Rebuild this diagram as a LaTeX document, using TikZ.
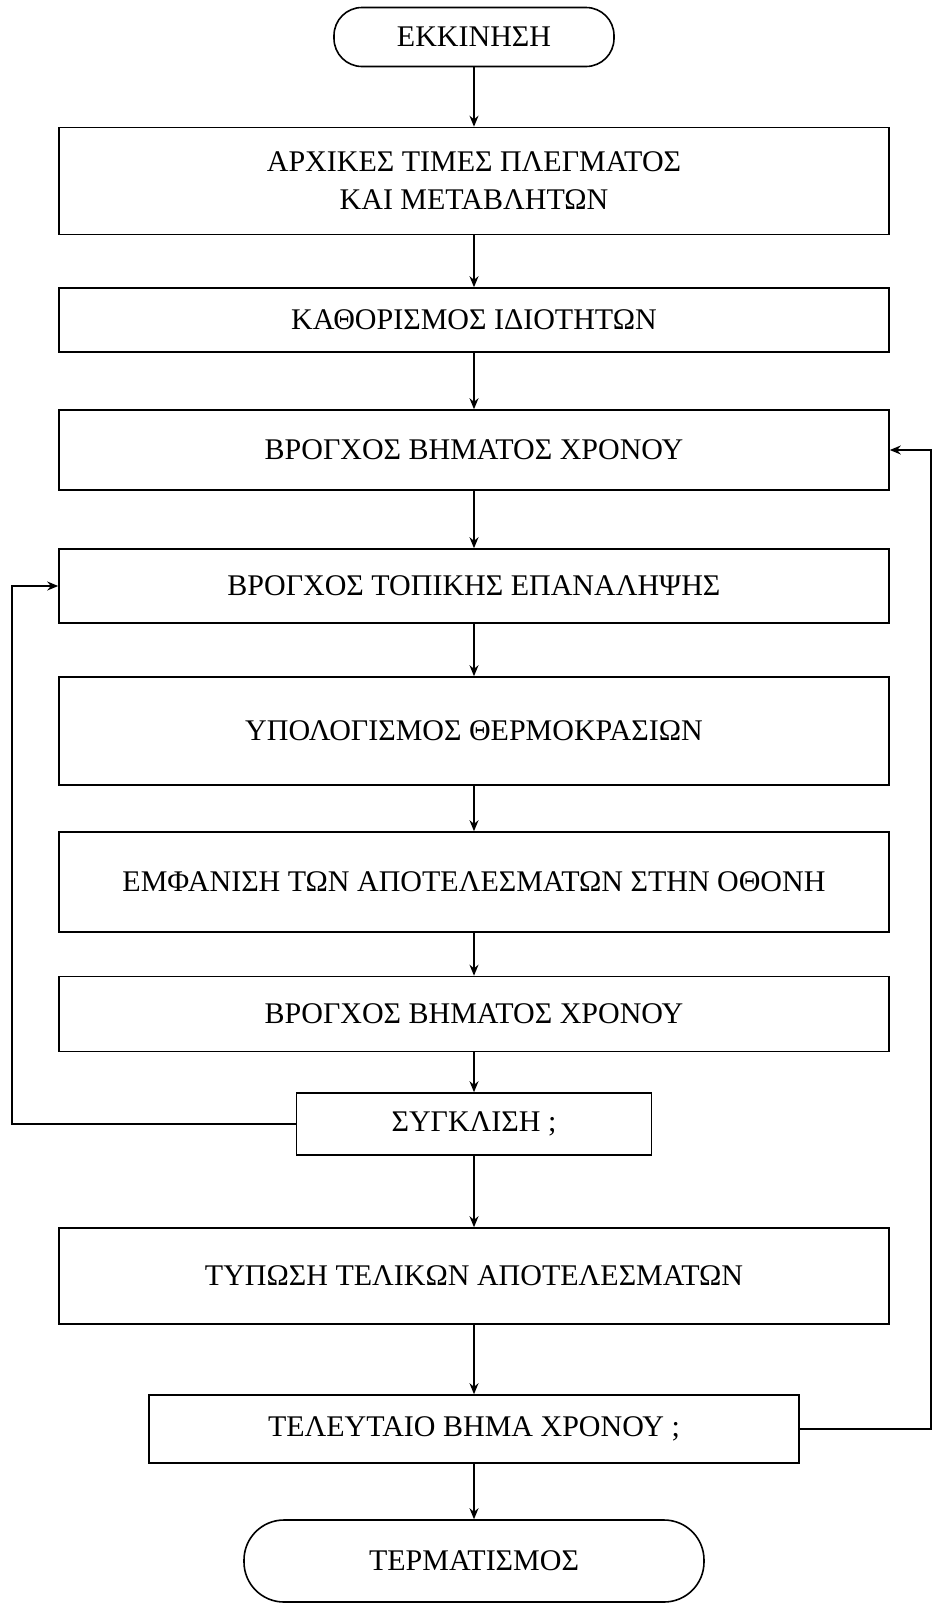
\documentclass[tikz,border=0pt]{standalone}
\usepackage{fontspec}
\setmainfont{Liberation Serif}
\usetikzlibrary{arrows.meta}

\begin{document}
\begin{tikzpicture}[x=1pt,y=-1pt,
    box/.style={draw,line width=1.6pt,minimum width=830pt,inner sep=0pt,align=center},
    term/.style={draw,line width=1.6pt,rounded corners=28pt,inner sep=0pt},
    arr/.style={line width=1.4pt,-{Stealth[length=11pt,width=9pt]}},
    font=\fontsize{30}{38}\selectfont]
            \useasboundingbox (0,0) rectangle (933,1609);

            \node[term,minimum width=280pt,minimum height=59pt] (start) at (474,37) {ΕΚΚΙΝΗΣΗ};
            \node[box,minimum height=107pt] (init) at (474,181) {ΑΡΧΙΚΕΣ ΤΙΜΕΣ ΠΛΕΓΜΑΤΟΣ\\ΚΑΙ ΜΕΤΑΒΛΗΤΩΝ};
            \node[box,minimum height=64pt] (prop) at (474,320) {ΚΑΘΟΡΙΣΜΟΣ ΙΔΙΟΤΗΤΩΝ};
            \node[box,minimum height=80pt] (tloop) at (474,450) {ΒΡΟΓΧΟΣ ΒΗΜΑΤΟΣ ΧΡΟΝΟΥ};
            \node[box,minimum height=74pt] (iloop) at (474,586) {ΒΡΟΓΧΟΣ ΤΟΠΙΚΗΣ ΕΠΑΝΑΛΗΨΗΣ};
            \node[box,minimum height=108pt] (temp) at (474,731) {ΥΠΟΛΟΓΙΣΜΟΣ ΘΕΡΜΟΚΡΑΣΙΩΝ};
            \node[box,minimum height=100pt] (show) at (474,882) {ΕΜΦΑΝΙΣΗ ΤΩΝ ΑΠΟΤΕΛΕΣΜΑΤΩΝ ΣΤΗΝ ΟΘΟΝΗ};
            \node[box,minimum height=75pt] (tloopb) at (474,1014) {ΒΡΟΓΧΟΣ ΒΗΜΑΤΟΣ ΧΡΟΝΟΥ};
            \node[box,minimum width=355pt,minimum height=62pt] (conv) at (474,1124) {ΣΥΓΚΛΙΣΗ ;};
            \node[box,minimum height=96pt] (print) at (474,1276) {ΤΥΠΩΣΗ ΤΕΛΙΚΩΝ ΑΠΟΤΕΛΕΣΜΑΤΩΝ};
            \node[box,minimum width=650pt,minimum height=68pt] (last) at (474,1429) {ΤΕΛΕΥΤΑΙΟ ΒΗΜΑ ΧΡΟΝΟΥ ;};
            \node[term,minimum width=460pt,minimum height=82pt,rounded corners=40pt] (stop) at (474,1561) {ΤΕΡΜΑΤΙΣΜΟΣ};

            \foreach \a/\b in {start/init,init/prop,prop/tloop,tloop/iloop,iloop/temp,temp/show,show/tloopb,tloopb/conv,conv/print,print/last,last/stop} {
            \draw[arr] (\a) -- (\b);}

            % return lines
            \coordinate (rside) at (931,0);
            \coordinate (lside) at (12,0);
            \draw[arr] (last.east) -- (last.east -| rside) -- (rside |- tloop.east) -- (tloop.east);
            \draw[arr] (conv.west) -- (conv.west -| lside) -- (lside |- iloop.west) -- (iloop.west);
\end{tikzpicture}
\end{document}
